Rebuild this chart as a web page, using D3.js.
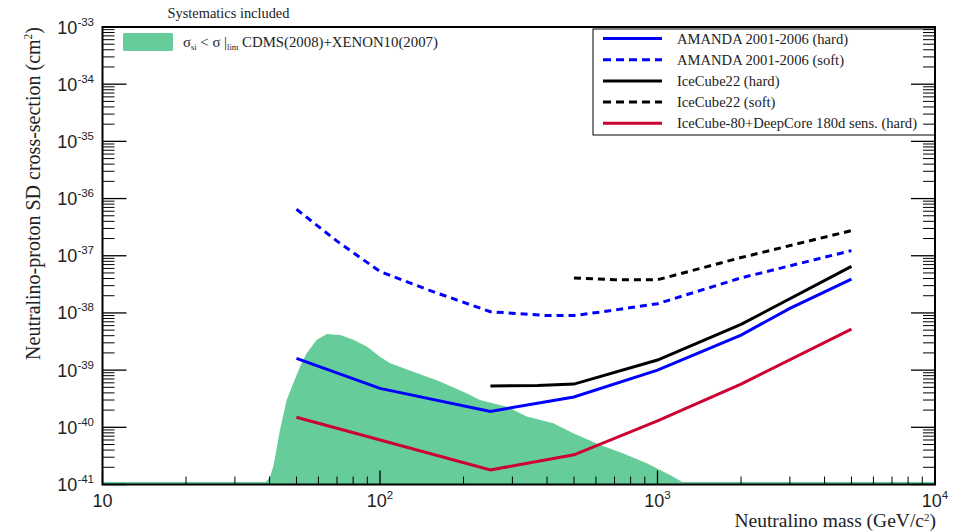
<!DOCTYPE html>
<html>
<head>
<meta charset="utf-8">
<script src="https://cdn.jsdelivr.net/npm/d3@7"></script>
<style>
  body { margin: 0; background: #fff; }
  svg { display: block; }
</style>
</head>
<body>
<svg id="chart" width="955" height="532"></svg>
<script>
// data (mass in GeV, cross-section in cm^2)
var massAmandaHard = [50, 100, 250, 500, 1000, 2000, 3000, 5000];
var sigmaAmandaHard = [1.6e-39, 4.8e-40, 1.9e-40, 3.4e-40, 1.0e-39, 4.1e-39, 1.2e-38, 3.9e-38];

var massAmandaSoft = [50, 70, 100, 150, 250, 400, 500, 700, 1000, 2000, 5000];
var sigmaAmandaSoft = [6.5e-37, 1.8e-37, 5.3e-38, 2.5e-38, 1.05e-38, 9.0e-39, 9.0e-39, 1.12e-38, 1.45e-38, 4.1e-38, 1.23e-37];

var massIC22Hard = [250, 370, 500, 1000, 2000, 5000];
var sigmaIC22Hard = [5.3e-40, 5.4e-40, 5.7e-40, 1.5e-39, 6.3e-39, 6.5e-38];

var massIC22Soft = [500, 700, 1000, 2000, 5000];
var sigmaIC22Soft = [4.1e-38, 3.8e-38, 3.8e-38, 9.3e-38, 2.75e-37];

var massIC80 = [50, 250, 500, 1000, 2000, 5000];
var sigmaIC80 = [1.5e-40, 1.8e-41, 3.3e-41, 1.3e-40, 5.7e-40, 5.2e-39];

var massAllowed = [38, 40, 41.3, 43.6, 46.1, 48.7, 51.5, 54.4, 59.2, 64.3, 71.8, 80.1, 89.6, 100, 108.7, 131.8, 164.4, 205, 229, 286, 338, 421, 497, 621, 753, 915, 1109, 1274];
var sigmaAllowed = [1e-41, 1.3e-41, 2.1e-41, 9e-41, 3e-40, 5.9e-40, 1.15e-39, 1.97e-39, 3.4e-39, 4.3e-39, 4.1e-39, 3.4e-39, 2.6e-39, 1.72e-39, 1.32e-39, 9.4e-40, 6.3e-40, 3.95e-40, 3.0e-40, 2.3e-40, 1.54e-40, 1.18e-40, 7.9e-41, 4.9e-41, 3.5e-41, 2.35e-41, 1.47e-41, 1e-41];

var xTickValues = [10, 100, 1000, 10000];
var xTickExp = ["", "2", "3", "4"];
var yTickExp = [-33, -34, -35, -36, -37, -38, -39, -40, -41];

var legendNames = ["AMANDA 2001-2006 (hard)", "AMANDA 2001-2006 (soft)", "IceCube22 (hard)", "IceCube22 (soft)", "IceCube-80+DeepCore 180d sens. (hard)"];
var legendColors = ["#0000ff", "#0000ff", "#000000", "#000000", "#cc0033"];
var legendDashed = [false, true, false, true, false];

var green = "#66cc99";
var serif = "'Liberation Serif', 'Times New Roman', serif";
var sans = "'Liberation Sans', Arial, sans-serif";

// frame edges in pixels
var frameL = 102.5, frameR = 935, frameT = 27, frameB = 484.5;

var svg = d3.select("#chart");

var x = d3.scaleLog().domain([10, 1e4]).range([frameL, frameR]);
var y = d3.scaleLog().domain([1e-41, 1e-33]).range([frameB, frameT]);

svg.append("defs").append("clipPath").attr("id", "plotclip")
  .append("rect")
  .attr("x", frameL).attr("y", frameT)
  .attr("width", frameR - frameL).attr("height", frameB - frameT);

var plot = svg.append("g").attr("clip-path", "url(#plotclip)");

// allowed region (histogram fill)
var allowed = massAllowed.map(function(m, i) { return [m, sigmaAllowed[i]]; });
plot.append("path")
  .datum(allowed)
  .attr("fill", green)
  .attr("d", d3.area()
    .x(function(d) { return x(d[0]); })
    .y0(frameB)
    .y1(function(d) { return y(d[1]); }));

// underflow part of histogram shows as a line along the bottom
plot.append("line")
  .attr("x1", frameL).attr("x2", frameR)
  .attr("y1", frameB - 1.5).attr("y2", frameB - 1.5)
  .attr("stroke", green).attr("stroke-width", 2);

var line = d3.line()
  .x(function(d) { return x(d[0]); })
  .y(function(d) { return y(d[1]); });

function drawCurve(mass, sigma, color, dashed) {
  var pts = mass.map(function(m, i) { return [m, sigma[i]]; });
  plot.append("path")
    .datum(pts)
    .attr("fill", "none")
    .attr("stroke", color)
    .attr("stroke-width", 3)
    .attr("stroke-dasharray", dashed ? "7,5" : null)
    .attr("d", line);
}

drawCurve(massAmandaSoft, sigmaAmandaSoft, legendColors[1], true);
drawCurve(massIC22Soft, sigmaIC22Soft, legendColors[3], true);
drawCurve(massIC22Hard, sigmaIC22Hard, legendColors[2], false);
drawCurve(massAmandaHard, sigmaAmandaHard, legendColors[0], false);
drawCurve(massIC80, sigmaIC80, legendColors[4], false);

// legend box (top right)
var lg = svg.append("g");
lg.append("rect")
  .attr("x", 593).attr("y", 29)
  .attr("width", frameR - 593).attr("height", 106)
  .attr("fill", "#fff").attr("stroke", "#000").attr("stroke-width", 1);

legendNames.forEach(function(name, i) {
  var ly = 38.5 + i * 21.2;
  lg.append("line")
    .attr("x1", 603).attr("x2", 662)
    .attr("y1", ly).attr("y2", ly)
    .attr("stroke", legendColors[i]).attr("stroke-width", 3)
    .attr("stroke-dasharray", legendDashed[i] ? "8,5" : null);
  lg.append("text")
    .attr("x", 677).attr("y", ly + 5)
    .attr("font-family", serif).attr("font-size", 14.6)
    .attr("fill", "#222")
    .text(name);
});

// legend for the allowed region (top left, no box)
svg.append("rect")
  .attr("x", 123).attr("y", 33).attr("width", 50).attr("height", 18)
  .attr("rx", 1.5)
  .attr("fill", green);

var lt = svg.append("text")
  .attr("x", 183).attr("y", 47)
  .attr("font-family", serif).attr("font-size", 14.8)
  .attr("fill", "#222");
lt.append("tspan").text("\u03c3");
lt.append("tspan").attr("font-size", 8.5).attr("dy", 3).text("si");
lt.append("tspan").attr("dy", -3).text(" < \u03c3 |");
lt.append("tspan").attr("font-size", 8.5).attr("dy", 3).text("lim");
lt.append("tspan").attr("dy", -3).text(" CDMS(2008)+XENON10(2007)");

svg.append("text")
  .attr("x", 228.5).attr("y", 18)
  .attr("text-anchor", "middle")
  .attr("font-family", serif).attr("font-size", 14.4)
  .attr("fill", "#222")
  .text("Systematics included");

// axes: ticks
var axes = svg.append("g").attr("stroke", "#000");

function minorValues(lo, hi) {
  var out = [];
  for (var e = lo; e < hi; e++) {
    for (var k = 2; k <= 9; k++) out.push(k * Math.pow(10, e));
  }
  return out;
}

// x ticks along the bottom
minorValues(1, 4).forEach(function(v) {
  axes.append("line")
    .attr("x1", x(v)).attr("x2", x(v))
    .attr("y1", frameB).attr("y2", frameB - 8)
    .attr("stroke-width", 1);
});
xTickValues.forEach(function(v) {
  axes.append("line")
    .attr("x1", x(v)).attr("x2", x(v))
    .attr("y1", frameB).attr("y2", frameB - 14)
    .attr("stroke-width", 1.3);
});

// y ticks on left and right
minorValues(-41, -33).forEach(function(v) {
  axes.append("line")
    .attr("x1", frameL).attr("x2", frameL + 12)
    .attr("y1", y(v)).attr("y2", y(v))
    .attr("stroke-width", 1);
  axes.append("line")
    .attr("x1", frameR).attr("x2", frameR - 12)
    .attr("y1", y(v)).attr("y2", y(v))
    .attr("stroke-width", 1);
});
yTickExp.forEach(function(e) {
  var v = Math.pow(10, e);
  axes.append("line")
    .attr("x1", frameL).attr("x2", frameL + 24)
    .attr("y1", y(v)).attr("y2", y(v))
    .attr("stroke-width", 1.3);
  axes.append("line")
    .attr("x1", frameR).attr("x2", frameR - 24)
    .attr("y1", y(v)).attr("y2", y(v))
    .attr("stroke-width", 1.3);
});

// frame
svg.append("rect")
  .attr("x", frameL).attr("y", frameT)
  .attr("width", frameR - frameL).attr("height", frameB - frameT)
  .attr("fill", "none").attr("stroke", "#000").attr("stroke-width", 2);

// tick labels
yTickExp.forEach(function(e) {
  var t = svg.append("text")
    .attr("x", 94).attr("y", y(Math.pow(10, e)) + 6.5)
    .attr("text-anchor", "end")
    .attr("font-family", sans).attr("font-size", 18)
    .attr("fill", "#222");
  t.append("tspan").text("10");
  t.append("tspan").attr("font-size", 11.5).attr("dy", -8).text(e);
});

xTickValues.forEach(function(v, i) {
  var t = svg.append("text")
    .attr("x", x(v)).attr("y", 507)
    .attr("text-anchor", "middle")
    .attr("font-family", sans).attr("font-size", 18)
    .attr("fill", "#222");
  t.append("tspan").text("10");
  if (xTickExp[i]) t.append("tspan").attr("font-size", 11.5).attr("dy", -8).text(xTickExp[i]);
});

// axis titles
var xt = svg.append("text")
  .attr("x", frameR + 1).attr("y", 527)
  .attr("text-anchor", "end")
  .attr("font-family", serif).attr("font-size", 19.5)
  .attr("fill", "#222");
xt.append("tspan").text("Neutralino mass (GeV/c");
xt.append("tspan").attr("font-size", 11).attr("dy", -6.5).text("2");
xt.append("tspan").attr("dy", 6.5).text(")");

var yt = svg.append("text")
  .attr("transform", "translate(40,27) rotate(-90)")
  .attr("text-anchor", "end")
  .attr("font-family", serif).attr("font-size", 20)
  .attr("fill", "#222");
yt.append("tspan").text("Neutralino-proton SD cross-section (cm");
yt.append("tspan").attr("font-size", 11.5).attr("dy", -8).text("2");
yt.append("tspan").attr("dy", 8).text(")");
</script>
</body>
</html>
